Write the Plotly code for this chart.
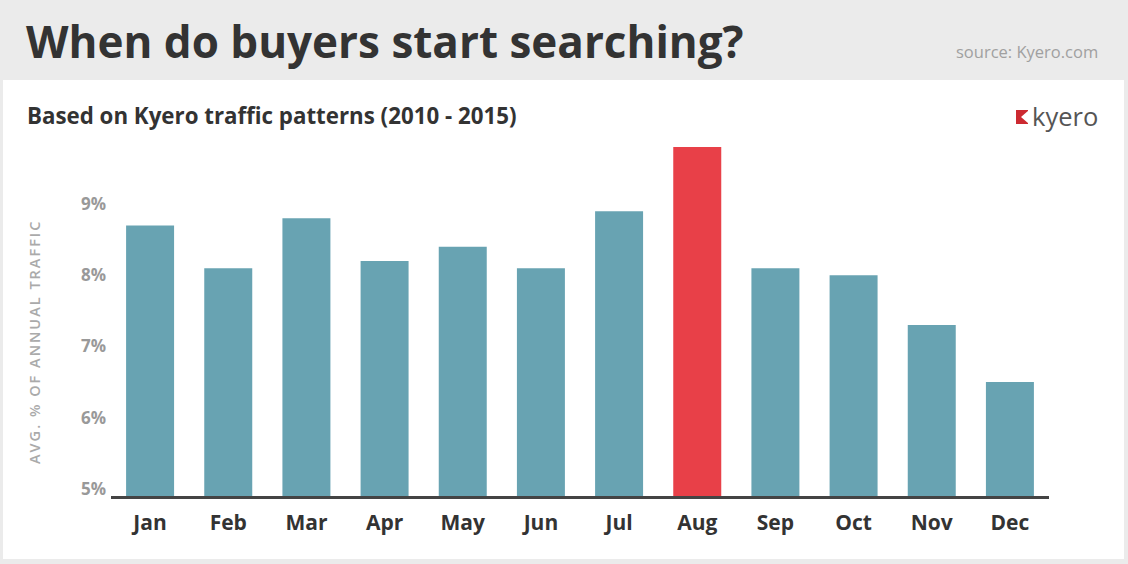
import plotly.graph_objects as go

# Monthly share of annual traffic (%)
months = ["Jan", "Feb", "Mar", "Apr", "May", "Jun",
          "Jul", "Aug", "Sep", "Oct", "Nov", "Dec"]
traffic = [8.7, 8.1, 8.8, 8.2, 8.4, 8.1, 8.9, 9.8, 8.1, 8.0, 7.3, 6.5]
peak_month = "Aug"

y_ticks = [5, 6, 7, 8, 9]
y_ticktext = ["5%", "6%", "7%", "8%", "9%"]

TEAL = "#68a3b2"
RED = "#e84048"
colors = [RED if m == peak_month else TEAL for m in months]

W, H = 1128, 564
L, R, T, B = 111, 79, 140, 68
PW, PH = W - L - R, H - T - B


def px_x(x):
    return (x - L) / PW


def px_y(y):
    return (H - B - y) / PH


fig = go.Figure()

fig.add_trace(go.Bar(
    x=months,
    y=traffic,
    marker=dict(color=colors, line_width=0),
    showlegend=False,
    hovertemplate="%{x}: %{y}%<extra></extra>",
))

# white panel on the grey page
fig.add_shape(type="rect", xref="paper", yref="paper",
              x0=px_x(3), x1=px_x(1124), y0=px_y(559), y1=px_y(80),
              fillcolor="white", line_width=0, layer="below")

# kyero logo mark (red square with a notch)
fig.add_shape(type="path", xref="paper", yref="paper",
              path="M {0},{1} L {2},{1} L {2},{3} L {0},{3} Z".format(
                  px_x(1016), px_y(110), px_x(1028), px_y(124)),
              fillcolor="#cc2a31", line_width=0)
fig.add_shape(type="path", xref="paper", yref="paper",
              path="M {0},{1} L {2},{3} L {0},{4} Z".format(
                  px_x(1028.5), px_y(110.5), px_x(1021), px_y(117), px_y(123.5)),
              fillcolor="white", line_width=0)

annotations = [
    dict(text="When do buyers start searching?", x=px_x(24), y=px_y(41),
         xanchor="left", yanchor="middle",
         font=dict(family="Open Sans", size=44, color="#333333", weight=700)),
    dict(text="source: Kyero.com", x=px_x(1100), y=px_y(51),
         xanchor="right", yanchor="middle",
         font=dict(family="Open Sans", size=16.5, color="#a0a0a0")),
    dict(text="Based on Kyero traffic patterns (2010 - 2015)", x=px_x(25), y=px_y(115),
         xanchor="left", yanchor="middle",
         font=dict(family="Open Sans", size=22.3, color="#333333", weight=700)),
    dict(text="kyero", x=px_x(1100), y=px_y(116),
         xanchor="right", yanchor="middle",
         font=dict(family="Open Sans", size=25.5, color="#555555")),
    dict(text='<span style="letter-spacing:2px">AVG. % OF ANNUAL TRAFFIC</span>',
         x=px_x(34), y=px_y(342),
         xanchor="center", yanchor="middle", textangle=-90,
         font=dict(family="Open Sans", size=14.5, color="#aaaaaa", weight=600)),
]
for a in annotations:
    a.update(xref="paper", yref="paper", showarrow=False)

fig.update_layout(
    width=W,
    height=H,
    margin=dict(l=L, r=R, t=T, b=B),
    paper_bgcolor="#ebebeb",
    plot_bgcolor="white",
    bargap=0.386,
    annotations=annotations,
    xaxis=dict(
        showgrid=False,
        showline=True,
        linecolor="#444444",
        linewidth=2.5,
        ticks="",
        ticklabelstandoff=6,
        tickfont=dict(family="Open Sans", size=21, color="#333333", weight=700),
    ),
    yaxis=dict(
        range=[4.9, 9.9],
        showgrid=False,
        zeroline=False,
        showline=False,
        tickmode="array",
        tickvals=y_ticks,
        ticktext=y_ticktext,
        ticks="",
        ticklabelstandoff=4,
        tickfont=dict(family="Open Sans", size=17, color="#999999", weight=700),
    ),
)

fig.write_html(
    "out.html",
    config={"displayModeBar": False},
    post_script="document.body.style.margin='0';document.body.style.background='#ebebeb';",
)
